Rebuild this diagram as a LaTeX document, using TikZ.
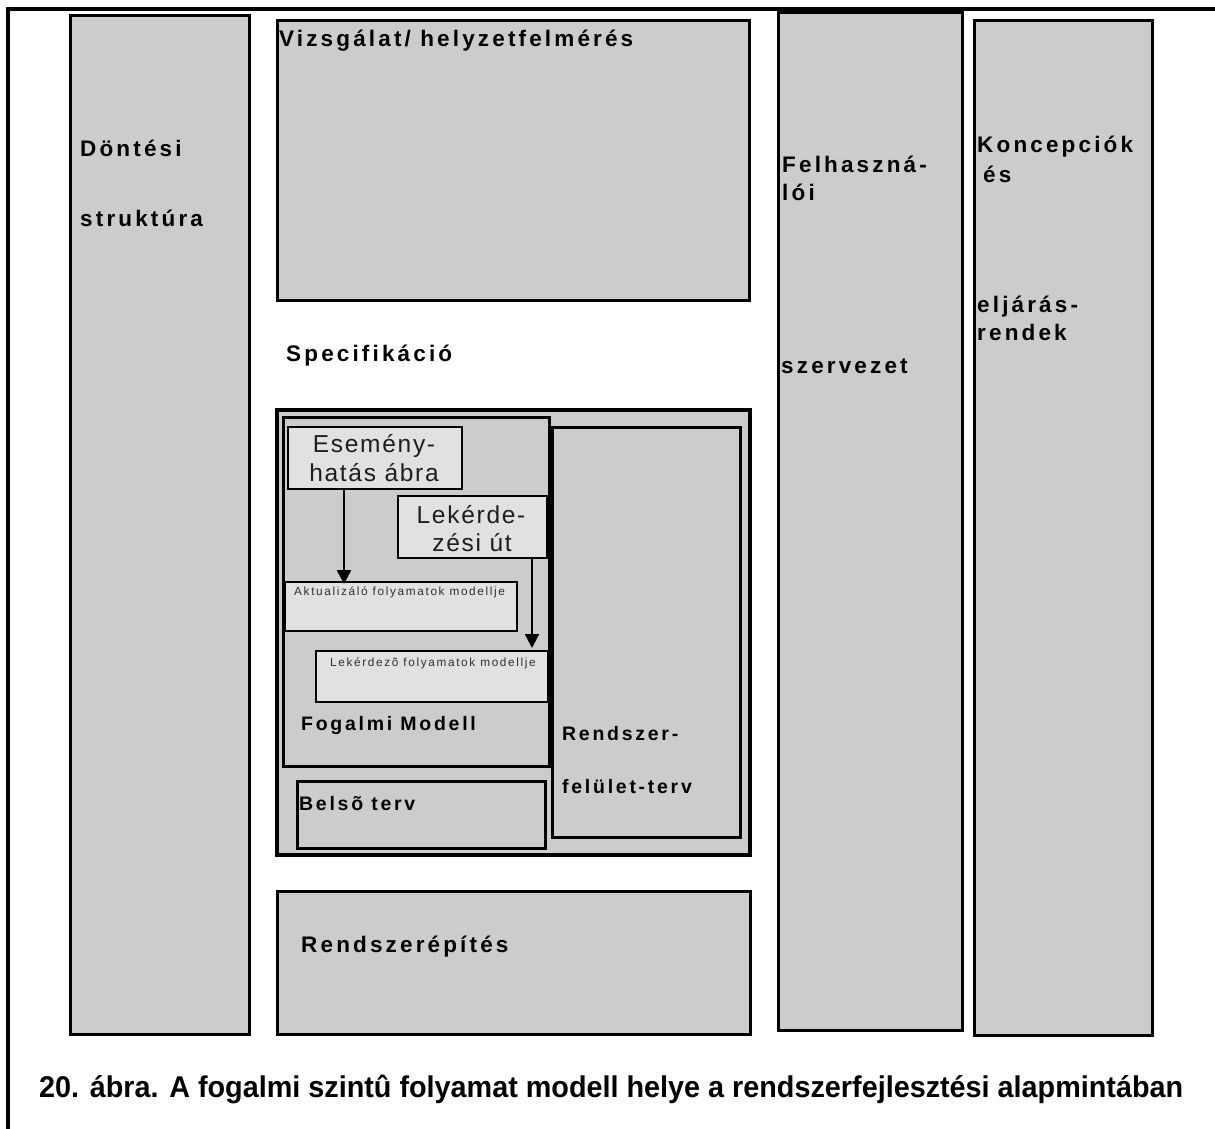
\documentclass[tikz,border=0pt]{standalone}
\usepackage{fontspec}
\setmainfont{Liberation Sans}
% letter-spaced variants of the same family
\newfontfamily\spacedfont[LetterSpace=14]{Liberation Sans}
\newfontfamily\airyfont[LetterSpace=7]{Liberation Sans}
\newfontfamily\smallfont[LetterSpace=14]{Liberation Sans}
\usetikzlibrary{arrows.meta}
\definecolor{panel}{HTML}{CCCCCC}
\definecolor{card}{HTML}{E1E1E1}
\definecolor{ink}{HTML}{1E1E1E}
\definecolor{smallink}{HTML}{303030}

\begin{document}
\begin{tikzpicture}[x=1pt,y=-1pt,
  box/.style={draw=black, line width=3pt, fill=panel, anchor=north west,
    inner sep=0pt, outer sep=0pt},
  outerbox/.style={box, line width=4.5pt},
  cardbox/.style={box, fill=card, line width=2.6pt},
  lbl/.style={anchor=base west, inner sep=0pt,
    font=\spacedfont\bfseries\fontsize{22.5}{26}\selectfont},
  lblm/.style={anchor=base west, inner sep=0pt,
    font=\spacedfont\bfseries\fontsize{19.5}{23}\selectfont},
  cardtext/.style={anchor=base, inner sep=0pt, text=ink,
    font=\airyfont\fontsize{24.5}{28}\selectfont},
  smalltext/.style={anchor=base west, inner sep=0pt, text=smallink,
    font=\smallfont\fontsize{11.8}{14}\selectfont},
  arr/.style={line width=2.4pt, -{Triangle[width=14pt,length=14pt]}}
]
\useasboundingbox (0,0) rectangle (1215,1129);

% page frame (left and top rules only)
\draw[line width=3.2pt] (8,1129) -- (8,9) -- (1215,9);

% tall side columns
\node[box, minimum width=179pt, minimum height=1018pt] (dontes) at (70,16) {};
\node[box, minimum width=184pt, minimum height=1017pt] (felh) at (778,13) {};
\node[box, minimum width=178pt, minimum height=1014pt] (konc) at (974,21) {};

% middle column
\node[box, minimum width=472pt, minimum height=279pt] (vizsg) at (277,21) {};
\node[outerbox, minimum width=473pt, minimum height=445pt] (spec) at (277,410) {};
\node[box, minimum width=266pt, minimum height=349pt] (fogalmi) at (283,417) {};
\node[box, minimum width=188pt, minimum height=410pt] (rft) at (552,427) {};
\node[box, minimum width=248pt, minimum height=67pt] (belso) at (297,781) {};
\node[box, minimum width=473pt, minimum height=143pt] (rendsz) at (277,891) {};

% inner cards of the conceptual model
\node[cardbox, minimum width=174pt, minimum height=62pt] (esem) at (288,427) {};
\node[cardbox, minimum width=149pt, minimum height=62pt] (lekut) at (398,496) {};
\node[cardbox, minimum width=232pt, minimum height=49pt] (aktual) at (285,582) {};
\node[cardbox, minimum width=232pt, minimum height=51pt] (lekmod) at (316,651) {};

% arrows between the cards
\draw[arr] ([xshift=56pt]esem.south west) -- ([xshift=56pt,yshift=-2pt]esem.south west |- aktual.north);
\draw[arr, shorten >=3pt] ([xshift=-15pt]lekut.south east) -- ([xshift=-15pt]lekut.south east |- lekmod.north);

% column labels
\node[lbl] (t-dont1) at (80,157) {Döntési};
\node[lbl] (t-dont2) at (80,226) {struktúra};
\node[lbl] (t-vizsg) at (279,47) {Vizsgálat/ helyzetfelmérés};
\node[lbl] (t-spec) at (286,361) {Specifikáció};
\node[lbl] (t-felh1) at (782,172) {Felhaszná-};
\node[lbl] (t-felh2) at (782,200) {lói};
\node[lbl] (t-felh3) at (781,373) {szervezet};
\node[lbl] (t-konc1) at (977,153) {Koncepciók};
\node[lbl] (t-konc2) at (983,182) {és};
\node[lbl] (t-konc3) at (977,312) {eljárás-};
\node[lbl] (t-konc4) at (977,340) {rendek};
\node[lbl] (t-rendsz) at (301,952) {Rendszerépítés};

% labels inside the specification block
\node[lblm] (t-fog) at (301,730) {Fogalmi Modell};
\node[lblm] (t-rft1) at (562,740) {Rendszer-};
\node[lblm] (t-rft2) at (562,793) {felület-terv};
\node[lblm] (t-belso) at (299,810) {Belsõ terv};

\node[cardtext] (t-esem1) at (374,452) {Esemény-};
\node[cardtext] (t-esem2) at (374,481) {hatás ábra};
\node[cardtext] (t-lek1) at (471,523) {Lekérde-};
\node[cardtext] (t-lek2) at (472,551) {zési út};
\node[smalltext] (t-akt) at (294,595) {Aktualizáló folyamatok modellje};
\node[smalltext] (t-lekm) at (330,666) {Lekérdezõ folyamatok modellje};

% figure caption
\node[anchor=base west, inner sep=0pt] (caption) at (39,1097)
  {\resizebox{1144pt}{\height}{\fontsize{30}{34}\selectfont\bfseries
   20. ábra. A fogalmi szintû folyamat modell helye a rendszerfejlesztési alapmintában}};
\end{tikzpicture}
\end{document}
